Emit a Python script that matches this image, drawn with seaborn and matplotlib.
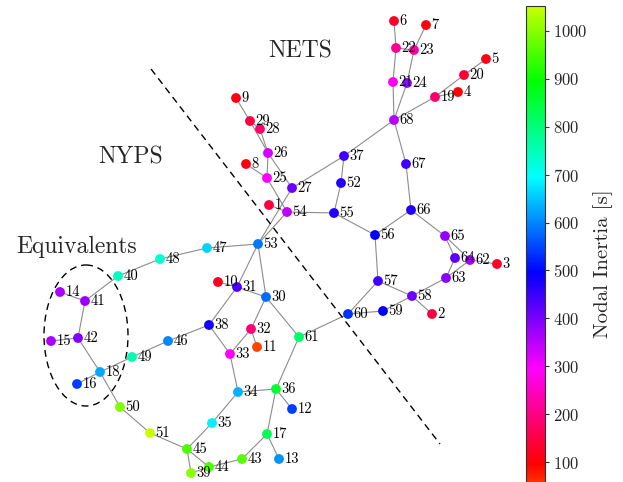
import numpy as np
import pandas as pd
import matplotlib
matplotlib.use("Agg")
import matplotlib.pyplot as plt
import matplotlib.colors as mcolors
from matplotlib.patches import Ellipse
from matplotlib.collections import LineCollection
import seaborn as sns

# ---- 68-bus NETS/NYPS test system: bus layout and nodal inertia ----
bus = list(range(1, 69))

pos_x = [269, 432, 497, 458, 486, 394, 426, 246, 236, 218,
         257, 292, 279, 60, 51, 77, 267, 100, 435, 464,
         393, 396, 414, 407, 267, 268, 292, 260, 250, 266,
         237, 251, 230, 238, 212, 276, 344, 209, 191, 118,
         85, 78, 242, 209, 187, 168, 207, 160, 132, 120,
         150, 341, 258, 287, 334, 375, 378, 412, 383, 348,
         299, 470, 446, 455, 445, 411, 406, 394]

pos_y = [205, 314, 264, 92, 59, 21, 25, 164, 98, 282,
         347, 409, 459, 292, 341, 384, 434, 372, 97, 75,
         82, 48, 50, 83, 178, 153, 188, 129, 121, 297,
         287, 329, 354, 392, 423, 389, 156, 325, 473, 276,
         301, 338, 459, 467, 449, 341, 248, 259, 357, 407,
         433, 183, 244, 212, 213, 235, 281, 296, 311, 314,
         337, 260, 278, 258, 236, 210, 164, 120]

inertia = [145, 145, 129, 102, 112, 129, 109, 109, 112, 122,
           42, 545, 612, 362, 362, 545, 829, 629, 179, 135,
           289, 212, 229, 379, 295, 329, 412, 179, 145, 579,
           435, 189, 295, 635, 685, 855, 445, 479, 1002, 745,
           379, 395, 962, 952, 955, 602, 662, 729, 755, 995,
           1052, 469, 589, 345, 469, 495, 445, 412, 495, 535,
           812, 362, 389, 422, 379, 469, 445, 355]

line_from = [1, 2, 3, 4, 5, 6, 7, 8, 9, 10, 11, 12, 13, 14, 15, 16, 17, 17,
             18, 18, 18, 19, 19, 21, 21, 22, 23, 24, 25, 25, 26, 26, 26, 27,
             27, 28, 30, 30, 30, 30, 31, 31, 32, 33, 33, 34, 34, 35, 36, 37,
             37, 38, 39, 39, 40, 40, 41, 43, 44, 45, 46, 47, 47, 50, 52, 53,
             54, 55, 56, 56, 57, 57, 58, 58, 59, 60, 62, 62, 63, 64, 65, 66,
             67]
line_to = [54, 58, 62, 19, 20, 22, 23, 25, 29, 31, 32, 36, 17, 41, 42, 18, 36, 43,
           42, 49, 50, 20, 68, 22, 68, 23, 24, 68, 26, 54, 27, 28, 29, 37,
           53, 29, 31, 32, 53, 61, 38, 53, 33, 34, 38, 35, 36, 45, 61, 52,
           68, 46, 44, 45, 41, 48, 42, 44, 45, 51, 49, 48, 53, 51, 55, 54,
           55, 56, 57, 66, 58, 60, 59, 63, 60, 61, 63, 65, 64, 65, 66, 67,
           68]

cbar_ticks = list(range(100, 1001, 100))

nodes = pd.DataFrame({"bus": bus, "x": pos_x, "y": pos_y, "inertia": inertia})

# ---- style ----
sns.set_theme(style="white")
plt.rcParams["font.family"] = ["cmr10", "DejaVu Serif"]
plt.rcParams["mathtext.fontset"] = "cm"
plt.rcParams["axes.formatter.use_mathtext"] = True
plt.rcParams["axes.unicode_minus"] = False

# hue sweep from orange-red through magenta, blue, cyan, green to yellow-green
hues = (np.linspace(376.0, 73.0, 512) % 360.0) / 360.0
hsv = np.column_stack([hues, np.ones_like(hues), np.ones_like(hues)])
cmap = mcolors.ListedColormap(mcolors.hsv_to_rgb(hsv), name="inertia_hue")
norm = mcolors.Normalize(vmin=min(inertia), vmax=max(inertia))

W, H = 623, 482
fig = plt.figure(figsize=(W / 100, H / 100), dpi=100)
ax = fig.add_axes([0, 0, 1, 1])

# transmission lines
xy = dict(zip(bus, zip(pos_x, pos_y)))
segments = [[xy[a], xy[b]] for a, b in zip(line_from, line_to)]
ax.add_collection(LineCollection(segments, colors="#8c8c8c", linewidths=0.8, zorder=1))

# buses coloured by nodal inertia
sns.scatterplot(data=nodes, x="x", y="y", hue="inertia", palette=cmap,
                hue_norm=norm, s=50, linewidth=0, legend=False, ax=ax, zorder=3)
ax.set_xlim(0, W)
ax.set_ylim(H, 0)
ax.axis("off")

for b, x, y in zip(bus, pos_x, pos_y):
    ax.annotate(str(b), (x, y), xytext=(4.0, -3.2), textcoords="offset points",
                ha="left", va="baseline", fontsize=10.5, color="black", zorder=4)

# area boundary and equivalent-machine group
dash = (0, (5, 3.5))
ax.plot([151, 440], [69, 444], color="black", lw=1.0, linestyle=dash, zorder=2)
ax.add_patch(Ellipse((86, 335.5), 84, 141, fill=False, edgecolor="black",
                     lw=1.0, linestyle=dash, zorder=2))

ax.text(300, 57, "NETS", ha="center", va="baseline", fontsize=17)
ax.text(130.5, 164, "NYPS", ha="center", va="baseline", fontsize=17)
ax.text(76.5, 253, "Equivalents", ha="center", va="baseline", fontsize=17)

# colour bar (its lower end runs past the bottom edge of the figure)
top_px = 6.0
px_per_unit = 0.479
bottom_px = top_px + (norm.vmax - norm.vmin) * px_per_unit
cax = fig.add_axes([525.7 / W, (H - bottom_px) / H, 19.3 / W, (bottom_px - top_px) / H])
sm = matplotlib.cm.ScalarMappable(norm=norm, cmap=cmap)
cbar = fig.colorbar(sm, cax=cax)
cbar.set_ticks(cbar_ticks)
cbar.ax.tick_params(labelsize=12, length=3, width=0.8, color="#333333", pad=3)
cbar.outline.set_linewidth(0.8)
cbar.outline.set_edgecolor("#333333")
fig.text(603 / W, 1 - 264 / H, "Nodal Inertia [s]", rotation=90,
         ha="center", va="center", fontsize=15)

fig.savefig("out.png", dpi=100)
